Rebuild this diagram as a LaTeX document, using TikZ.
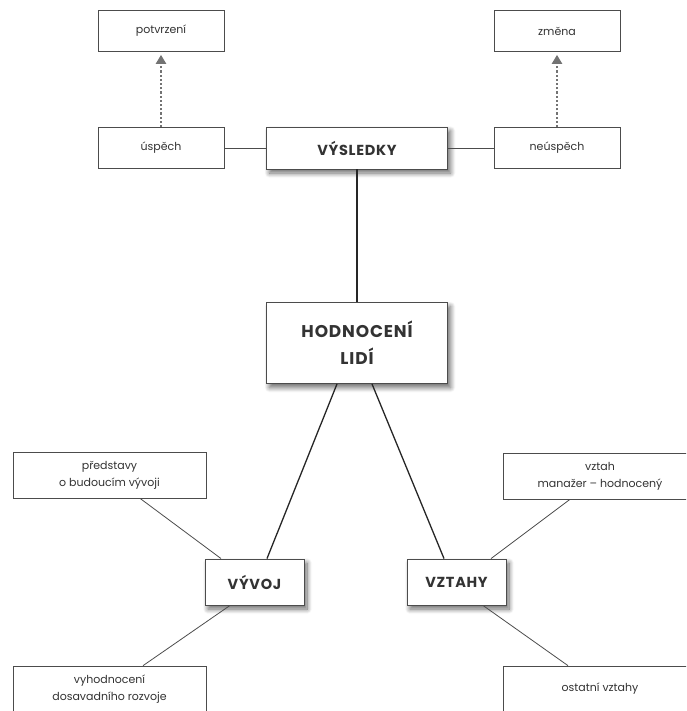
\documentclass[tikz,border=0pt]{standalone}
\usepackage{fontspec}
\setmainfont{Poppins}
\newfontfamily\headfont[LetterSpace=5]{Poppins}
\usetikzlibrary{arrows.meta,shadows.blur}
\begin{document}
\begin{tikzpicture}[x=1pt,y=-1pt,
  box/.style={draw=black!70, line width=0.7pt, fill=white, align=center, inner sep=0pt,
    text=black!80, font=\fontsize{11}{17}\selectfont},
  smallbox/.style={box, minimum width=126pt, minimum height=41pt},
  widebox/.style={box, minimum width=193pt, minimum height=46pt},
  mainbox/.style={box, line width=0.9pt, font=\headfont\bfseries\fontsize{14.5}{15}\selectfont,
    blur shadow={shadow xshift=3pt, shadow yshift=-4pt, shadow blur steps=10,
      shadow blur radius=5pt, shadow opacity=60}},
  link/.style={draw=black!70, line width=0.8pt},
  trunk/.style={draw=black!85, line width=1.3pt},
  hint/.style={draw=black!55, line width=2.2pt, dotted, -{Triangle[width=10pt,length=9pt]}, shorten >=3pt}]
  \useasboundingbox (0,0) rectangle (686,711);
  \clip (0,0) rectangle (686,711);
  % top row
  \node[smallbox] (potvrzeni) at (161,31) {potvrzení};
  \node[smallbox] (zmena) at (557,31) {změna};
  \node[smallbox] (uspech) at (161,148) {úspěch};
  \node[smallbox] (neuspech) at (557,148) {neúspěch};
  \node[mainbox, minimum width=181pt, minimum height=42pt] (vysledky) at (357,148) {VÝSLEDKY};
  % centre
  \node[mainbox, minimum width=181pt, minimum height=81pt,
    font=\headfont\bfseries\fontsize{17}{27}\selectfont] (hodnoceni) at (357,343) {HODNOCENÍ\\LIDÍ};
  % bottom
  \node[mainbox, minimum width=99pt, minimum height=46pt] (vyvoj) at (254.5,582) {VÝVOJ};
  \node[mainbox, minimum width=99pt, minimum height=46pt] (vztahy) at (456.5,582) {VZTAHY};
  \node[widebox] (predstavy) at (109.5,475) {představy\\o budoucím vývoji};
  \node[widebox] (rozvoj) at (109.5,689) {vyhodnocení\\dosavadního rozvoje};
  \node[widebox] (vztah) at (600,476) {vztah\\manažer – hodnocený};
  \node[widebox] (ostatni) at (600,689) {ostatní vztahy};
  % connectors
  \foreach \a/\b in {uspech/potvrzeni, neuspech/zmena}
    \draw[hint] (\a.north) -- (\b.south);
  \draw[link] (uspech.east) -- (vysledky.west);
  \draw[link] (neuspech.west) -- (vysledky.east);
  \draw[trunk] (vysledky.south) -- (hodnoceni.north);
  \draw[trunk] ([xshift=-20pt]hodnoceni.south) -- ([xshift=12.5pt]vyvoj.north);
  \draw[trunk] ([xshift=15pt]hodnoceni.south) -- ([xshift=-12.5pt]vztahy.north);
  \draw[link] ([xshift=30.5pt]predstavy.south) -- ([xshift=-33.5pt]vyvoj.north);
  \draw[link] ([xshift=-24.5pt]vyvoj.south) -- ([xshift=33.5pt]rozvoj.north);
  \draw[link] ([xshift=-30pt]vztah.south) -- ([xshift=34.5pt]vztahy.north);
  \draw[link] ([xshift=26.5pt]vztahy.south) -- ([xshift=-32pt]ostatni.north);
\end{tikzpicture}
\end{document}
